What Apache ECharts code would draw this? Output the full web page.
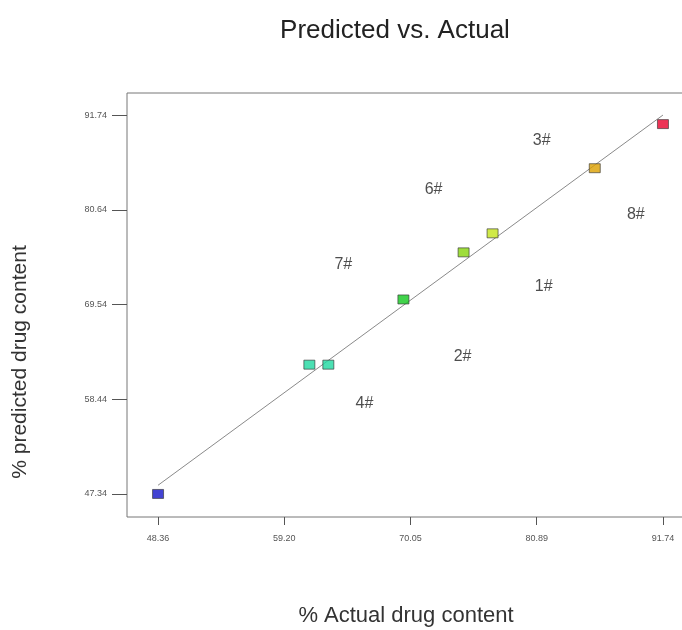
<!DOCTYPE html>
<html>
<head>
<meta charset="utf-8">
<script src="https://cdn.jsdelivr.net/npm/echarts@6/dist/echarts.min.js"></script>
<style>
  html, body { margin: 0; padding: 0; background: #fff; }
  #chart { width: 682px; height: 630px; }
</style>
</head>
<body>
<div id="chart"></div>
<script>
// runs
const actual = [48.36, 61.36, 62.99, 69.44, 74.61, 77.10, 85.88, 91.74]
const predicted = [47.34, 62.49, 62.49, 70.13, 75.65, 77.88, 85.51, 90.68]

// formulation tags placed on the plot
const tagNames = ['1#', '2#', '3#', '4#', '6#', '7#', '8#']
const tagX = [81.49, 74.52, 81.32, 66.09, 72.03, 64.28, 89.41]
const tagY = [71.65, 63.43, 88.80, 57.91, 83.05, 74.24, 80.11]

const xTicks = [48.36, 59.20, 70.05, 80.89, 91.74]
const yTicks = [47.34, 58.44, 69.54, 80.64, 91.74]

const pointColors = ['#1414c8', '#1ed8a0', '#1ed8a0', '#12c81e', '#86d40a', '#c4e41a', '#dca000', '#e8002a']

const chart = echarts.init(document.getElementById('chart'))

const fmt = (v) => Number(v).toFixed(2)

chart.setOption({
  backgroundColor: '#fff',
  animation: false,
  title: {
    text: 'Predicted vs. Actual',
    left: 390,
    top: 13,
    textAlign: 'center',
    textStyle: { fontFamily: 'Liberation Sans', fontSize: 26, fontWeight: 'normal', color: '#222' },
  },
  grid: {
    left: 127, right: -3, top: 93, bottom: 113,
    outerBoundsMode: 'none',
    containLabel: false,
    show: true, borderColor: '#777', borderWidth: 1, backgroundColor: '#fff',
  },
  xAxis: {
    type: 'value',
    min: 45.692,
    max: 93.633,
    name: '% Actual drug content',
    nameLocation: 'middle',
    nameGap: 88,
    nameTextStyle: { fontFamily: 'Liberation Sans', fontSize: 22, color: '#333' },
    axisLine: { show: false },
    splitLine: { show: false },
    axisTick: { show: true, inside: false, length: 8, customValues: xTicks, lineStyle: { color: '#555' } },
    axisLabel: { customValues: xTicks, formatter: fmt, margin: 17, fontSize: 9, color: '#555', fontFamily: 'Liberation Sans' },
  },
  yAxis: {
    type: 'value',
    min: 44.639,
    max: 94.324,
    axisLine: { show: false },
    splitLine: { show: false },
    axisTick: { show: true, inside: false, length: 15, customValues: yTicks, lineStyle: { color: '#555' } },
    axisLabel: { customValues: yTicks, formatter: fmt, margin: 20, fontSize: 9, color: '#555', fontFamily: 'Liberation Sans' },
  },
  graphic: [
    {
      type: 'text',
      x: 20,
      y: 362,
      rotation: Math.PI / 2,
      style: {
        text: '% predicted drug content',
        fontFamily: 'Liberation Sans',
        fontSize: 21,
        fill: '#333',
        align: 'center',
        verticalAlign: 'middle',
      },
    },
  ],
  series: [
    {
      type: 'line',
      data: [[xTicks[0], xTicks[0]], [xTicks[4], xTicks[4]]],
      symbol: 'none',
      lineStyle: { color: '#8a8a8a', width: 1 },
      silent: true,
      z: 1,
    },
    {
      type: 'scatter',
      symbol: 'rect',
      symbolSize: [11, 9],
      data: actual.map((a, i) => ({
        value: [a, predicted[i]],
        itemStyle: { color: pointColors[i], borderColor: '#333', borderWidth: 0.8 },
      })),
      z: 3,
    },
    {
      type: 'scatter',
      symbolSize: 0,
      data: tagNames.map((n, i) => ({ value: [tagX[i], tagY[i]], name: n })),
      label: {
        show: true,
        position: 'inside',
        formatter: (p) => p.name,
        fontFamily: 'Liberation Sans',
        fontSize: 16,
        color: '#222',
      },
      silent: true,
      z: 4,
    },
  ],
})
</script>
</body>
</html>
